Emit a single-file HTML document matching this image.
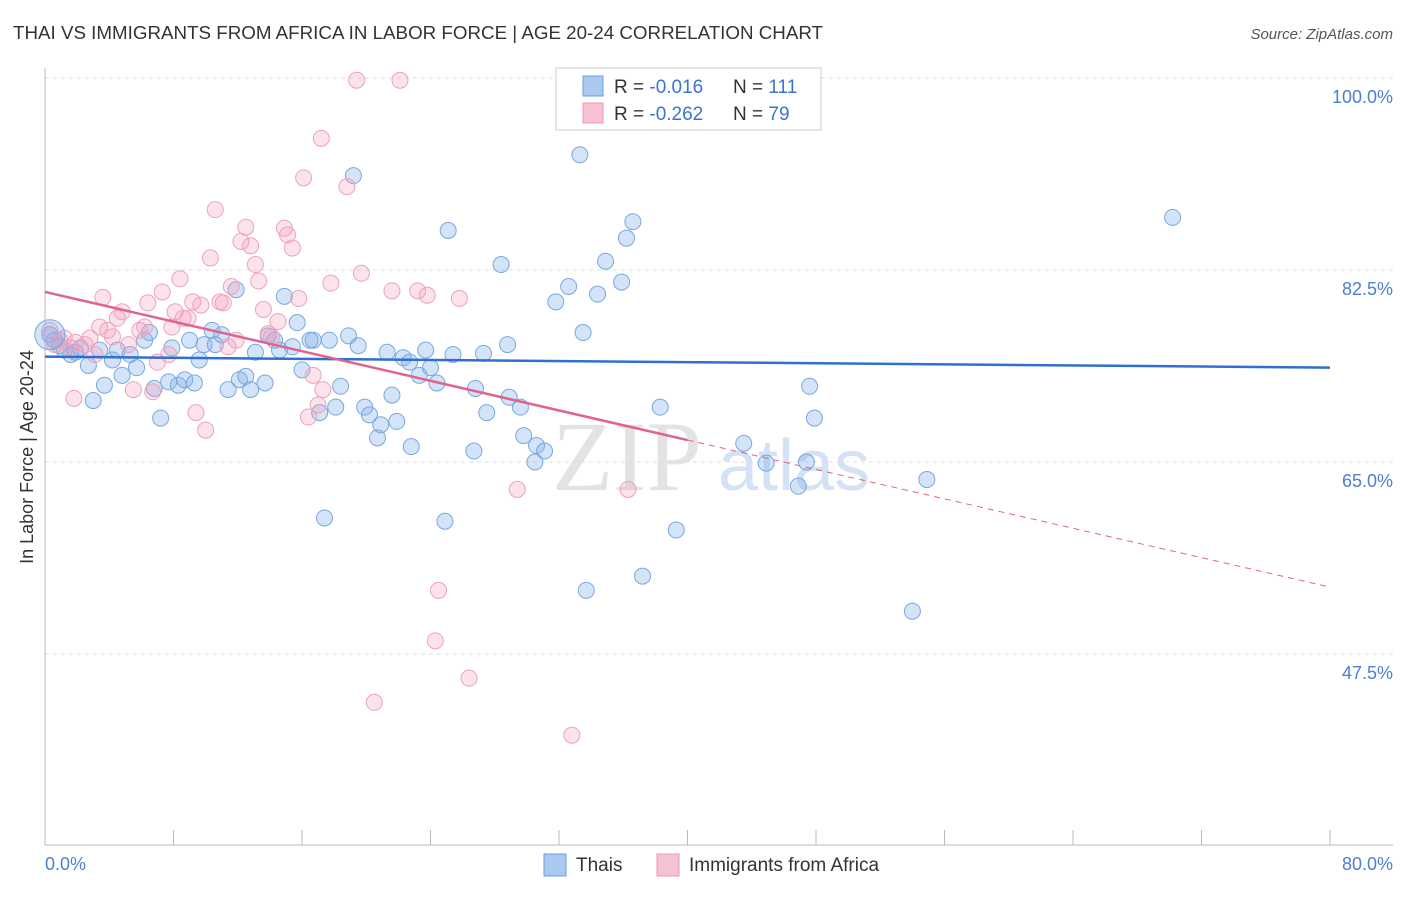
<!DOCTYPE html>
<html><head><meta charset="utf-8"><style>
body{margin:0;background:#fff;font-family:"Liberation Sans",sans-serif;}
svg text{font-family:"Liberation Sans",sans-serif;}
</style></head><body>
<svg id="chart" width="1406" height="892" xmlns="http://www.w3.org/2000/svg">
<text x="13" y="39" font-size="18" fill="#333" textLength="810" lengthAdjust="spacingAndGlyphs">THAI VS IMMIGRANTS FROM AFRICA IN LABOR FORCE | AGE 20-24 CORRELATION CHART</text>
<text x="1393" y="39" font-size="15" fill="#555" font-style="italic" text-anchor="end">Source: ZipAtlas.com</text>
<g>
<text x="552" y="490" font-size="100" font-family="Liberation Serif" fill="#ddd" opacity="0.8" style="font-family:'Liberation Serif',serif">ZIP</text>
<text x="718" y="490" font-size="72" fill="#c9dbf3" opacity="0.8">atlas</text>
</g>
<g id="grid"></g>
<g id="axes"></g>
<g id="marks"></g>
<text transform="translate(33,457) rotate(-90)" font-size="18" fill="#333" text-anchor="middle">In Labor Force | Age 20-24</text>
<g>
<rect x="556" y="68" width="265" height="62" fill="#fff" stroke="#ccc"/>
<rect x="583" y="76" width="20" height="20" fill="#aac8f0" stroke="#6a9fd8"/>
<text x="614" y="93" font-size="19" fill="#333">R = <tspan fill="#3b73d1">-0.016</tspan></text>
<text x="733" y="93" font-size="19" fill="#333">N = <tspan fill="#3b73d1">111</tspan></text>
<rect x="583" y="103" width="20" height="20" fill="#f7c3d4" stroke="#e89ab4"/>
<text x="614" y="120" font-size="19" fill="#333">R = <tspan fill="#3b73d1">-0.262</tspan></text>
<text x="733" y="120" font-size="19" fill="#333">N = <tspan fill="#3b73d1">79</tspan></text>
</g>
<g>
<rect x="544" y="854" width="22" height="22" fill="#aac8f0" stroke="#6a9fd8"/>
<text x="576" y="871" font-size="19" fill="#333">Thais</text>
<rect x="657" y="854" width="22" height="22" fill="#f7c3d4" stroke="#e89ab4"/>
<text x="689" y="871" font-size="19" fill="#333">Immigrants from Africa</text>
</g>
</svg>
<script>
const yTicks=[100,82.5,65,47.5];
const yTickLabels=["100.0%","82.5%","65.0%","47.5%"];
const xTickLabels=["0.0%","80.0%"];
const blueX=[0.3,0.6,0.9,1.2,1.6,1.9,2.2,2.7,3.0,3.4,3.7,4.2,4.5,4.8,5.3,5.7,6.2,6.5,7.2,6.8,7.7,7.9,8.3,8.7,9.0,9.3,9.6,9.9,10.4,10.6,11.0,11.4,11.9,12.1,12.5,12.8,13.1,13.7,13.9,14.3,14.6,14.9,15.4,15.7,16.0,16.5,16.7,17.1,17.4,17.7,18.1,18.4,18.9,19.2,19.5,19.9,20.2,20.7,20.9,21.3,21.6,21.9,22.3,22.7,22.8,23.3,23.7,24.0,24.4,24.9,25.1,25.4,26.7,26.8,27.3,27.5,28.4,28.8,28.9,29.6,29.8,30.5,30.6,31.1,31.8,32.6,33.3,33.5,33.7,34.4,34.9,35.9,36.2,36.6,37.2,38.3,39.3,43.5,44.9,46.9,47.4,47.6,47.9,54.0,54.9,70.2,32.8,34.7,37.7,39.2,41.5];
const blueY=[76.6,76.1,75.6,75.2,74.8,75.0,75.4,73.8,70.6,75.2,72.0,74.3,75.2,72.9,74.8,73.6,76.1,76.8,69.0,71.7,72.3,75.4,72.0,72.5,76.1,72.2,74.3,75.7,77.0,75.7,76.6,71.6,80.7,72.5,72.8,71.6,75.0,72.2,76.5,76.1,75.2,80.1,75.5,77.7,73.4,76.1,76.1,69.5,59.9,76.1,70.0,71.9,76.5,91.1,75.6,70.0,69.3,67.2,68.4,75.0,71.1,68.7,74.5,74.1,66.4,72.9,75.2,73.6,72.2,59.6,86.1,74.8,66.0,71.7,74.9,69.5,83.0,75.7,70.9,70.0,67.4,65.0,66.5,66.0,79.6,81.0,93.0,76.8,53.3,80.3,83.3,81.4,85.4,86.9,54.6,70.0,58.8,66.7,64.9,62.8,65.0,71.9,69.0,51.4,63.4,87.3,99.8,99.8,99.8,99.8,99.8];
const pinkX=[0.3,0.6,0.9,1.2,1.6,1.9,1.8,2.5,2.8,3.1,3.4,3.6,3.9,4.2,4.5,4.8,5.2,5.5,5.9,6.2,6.4,6.7,7.0,7.3,7.7,7.9,8.1,8.4,8.6,8.9,9.2,9.4,9.7,10.0,10.3,10.6,10.9,11.1,11.4,11.6,11.9,12.2,12.5,12.8,13.1,13.3,13.6,13.9,14.1,14.5,14.9,15.1,15.4,15.8,16.1,16.4,16.7,17.0,17.2,17.3,17.8,18.8,19.4,19.7,20.5,21.6,22.1,23.2,23.8,24.3,24.5,25.8,26.4,29.4,32.8,36.3];
const pinkY=[77.0,75.7,76.1,76.3,75.4,75.9,70.8,75.7,76.3,74.8,77.3,80.0,77.0,76.4,78.1,78.7,75.7,71.6,77.0,77.3,79.5,71.4,74.1,80.5,74.8,77.3,78.7,81.7,78.1,78.1,79.6,69.5,79.3,67.9,83.6,88.0,79.6,79.5,75.5,81.0,76.1,85.1,86.4,84.7,83.0,81.5,78.9,76.7,76.4,77.8,86.3,85.7,84.5,79.9,90.9,69.1,72.9,70.2,94.5,71.6,81.3,90.1,99.8,82.2,43.1,80.6,99.8,80.6,80.2,48.7,53.3,79.9,45.3,62.5,40.1,62.5];
const blueTrendX=[0,80], blueTrendY=[74.6,73.6];
const pinkTrendX=[0,40,80], pinkTrendY=[80.5,67.0,53.6];

const NS="http://www.w3.org/2000/svg";
const X0=45,X1=1330,Y100=78,PX_PER=192/17.5;
const sx=v=>X0+(v/80)*(X1-X0);
const sy=v=>Y100+(100-v)*PX_PER;
function mk(tag,attrs,parent){const e=document.createElementNS(NS,tag);for(const k in attrs)e.setAttribute(k,attrs[k]);parent.appendChild(e);return e;}
const grid=document.getElementById('grid'),axes=document.getElementById('axes'),marks=document.getElementById('marks');
yTicks.forEach((t,i)=>{
 const l=mk('line',{x1:X0,x2:1393,y1:sy(t),y2:sy(t),stroke:'#ddd','stroke-dasharray':'4,4'},grid);
 
 
 const tx=mk('text',{x:1393,y:sy(t)+25,'font-size':18,fill:'#4a7fd4','text-anchor':'end'},axes);
 tx.textContent=yTickLabels[i];
 
 
});
const ax=mk('line',{x1:X0,x2:X0,y1:68,y2:845,stroke:'#bbb'},axes);


const bx=mk('line',{x1:X0,x2:1393,y1:845,y2:845,stroke:'#bbb'},axes);


for(let i=0;i<=10;i++){const t=mk('line',{x1:sx(i*8),x2:sx(i*8),y1:830,y2:845,stroke:'#bbb'},axes);
 
 }
const xl0=mk('text',{x:X0,y:870,'font-size':18,fill:'#4a7fd4'},axes);xl0.textContent=xTickLabels[0];


const xl1=mk('text',{x:1393,y:870,'font-size':18,fill:'#4a7fd4','text-anchor':'end'},axes);xl1.textContent=xTickLabels[1];


function dots(xs,ys,fill,stroke,name){xs.forEach((x,i)=>{const c=mk('circle',{cx:sx(x),cy:sy(ys[i]),r:8,fill:fill,stroke:stroke,'stroke-width':1},marks);
 
 });}
dots(blueX,blueY,'rgba(130,175,235,0.35)','#7aa8de','thais-point');
dots(pinkX,pinkY,'rgba(245,160,190,0.3)','#eba3bb','africa-point');
const big=mk('circle',{cx:sx(blueX[0]),cy:sy(blueY[0]),r:15,fill:'rgba(130,175,235,0.35)',stroke:'#7aa8de'},marks);


const bt=mk('line',{x1:sx(blueTrendX[0]),y1:sy(blueTrendY[0]),x2:sx(blueTrendX[1]),y2:sy(blueTrendY[1]),stroke:'#2f6fd1','stroke-width':2.5},marks);


const pt=mk('line',{x1:sx(pinkTrendX[0]),y1:sy(pinkTrendY[0]),x2:sx(pinkTrendX[1]),y2:sy(pinkTrendY[1]),stroke:'#e0628f','stroke-width':2.5},marks);


const pd=mk('line',{x1:sx(pinkTrendX[1]),y1:sy(pinkTrendY[1]),x2:sx(pinkTrendX[2]),y2:sy(pinkTrendY[2]),stroke:'#e0628f','stroke-width':1,'stroke-dasharray':'6,5'},marks);


</script>
</body></html>
